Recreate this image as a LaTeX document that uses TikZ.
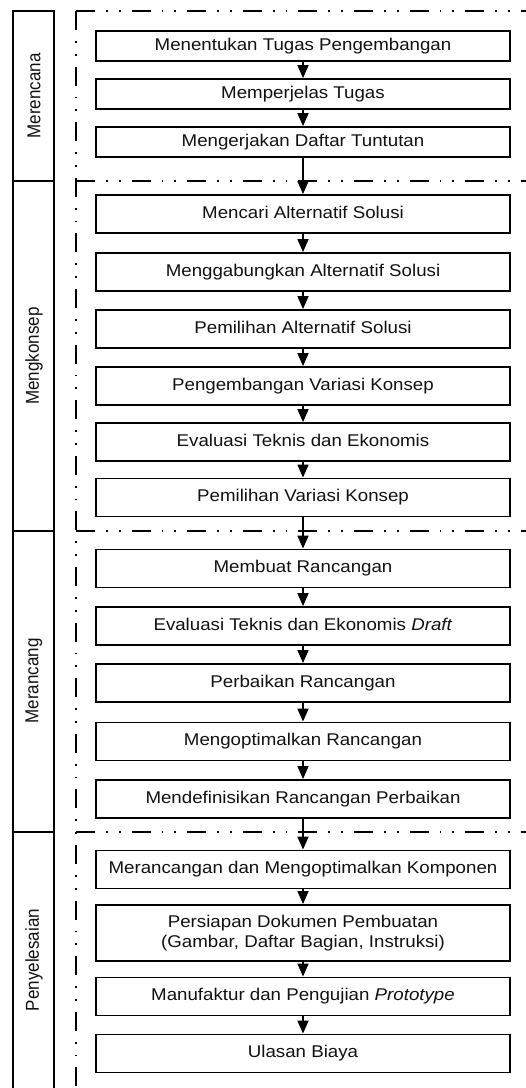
\documentclass[tikz,border=0pt]{standalone}
\usepackage{fontspec}
\usepackage{graphicx}
\setmainfont{Liberation Sans}
\usetikzlibrary{arrows.meta}
\definecolor{ink}{HTML}{111111}
\newcommand{\stx}[1]{\scalebox{1.1}[1]{\begin{tabular}{@{}c@{}}#1\end{tabular}}}
\newcommand{\sidetx}[1]{\scalebox{1}[1.1]{#1}}
\tikzset{
  stepbox/.style={draw=black, line width=1.9pt, minimum width=414pt, minimum height=38pt,
    inner sep=0pt, align=center, text=ink, font=\fontsize{17}{20}\selectfont},
  shortbox/.style={stepbox, minimum height=30pt},
  tallbox/.style={stepbox, minimum height=56pt},
  phase/.style={rotate=90, text=ink, inner sep=0pt, font=\fontsize{17}{20}\selectfont},
  frameline/.style={line width=1.7pt, black},
  sepline/.style={line width=1.6pt, black, dash pattern=on 19pt off 11pt on 1.8pt off 11pt on 1.8pt off 11pt},
  flow/.style={line width=1.7pt, black, -{Triangle[width=11pt,length=13pt]}}
}
\begin{document}
\begin{tikzpicture}[x=1pt,y=-1pt]
\useasboundingbox (0,0) rectangle (526,1088);
% phase column
\draw[frameline] (13,1092) -- (13,11) -- (54,11) -- (54,1092);
\draw[frameline] (13,181) -- (54,181);
\draw[frameline] (13,531) -- (54,531);
\draw[frameline] (13,832) -- (54,832);
\node[phase] (pA) at (34,96) {\sidetx{Merencana}};
\node[phase] (pB) at (34,356) {\sidetx{Mengkonsep}};
\node[phase] (pC) at (34,681) {\sidetx{Merancang}};
\node[phase] (pD) at (34,960) {\sidetx{Penyelesaian}};
% dash-dot separators
\coordinate (c0) at (76,11);
\coordinate (cB) at (76,1092);
\coordinate (r0) at (530,11);
\coordinate (s1) at (76,181);
\coordinate (t1) at (530,181);
\coordinate (s2) at (76,531);
\coordinate (t2) at (530,531);
\coordinate (s3) at (76,832);
\coordinate (t3) at (530,832);
\draw[sepline] (c0) -- (cB);
\draw[sepline] (c0) -- (r0);
\draw[sepline] (s1) -- (t1);
\draw[sepline] (s2) -- (t2);
\draw[sepline] (s3) -- (t3);
% steps
\node[shortbox] (b1) at (303,46) {\stx{Menentukan Tugas Pengembangan}};
\node[shortbox] (b2) at (303,94) {\stx{Memperjelas Tugas}};
\node[shortbox] (b3) at (303,142) {\stx{Mengerjakan Daftar Tuntutan}};
\node[stepbox] (b4) at (303,214) {\stx{Mencari Alternatif Solusi}};
\node[stepbox] (b5) at (303,272) {\stx{Menggabungkan Alternatif Solusi}};
\node[stepbox] (b6) at (303,329) {\stx{Pemilihan Alternatif Solusi}};
\node[stepbox] (b7) at (303,386) {\stx{Pengembangan Variasi Konsep}};
\node[stepbox] (b8) at (303,442) {\stx{Evaluasi Teknis dan Ekonomis}};
\node[stepbox] (b9) at (303,497.5) {\stx{Pemilihan Variasi Konsep}};
\node[stepbox] (b10) at (303,568.5) {\stx{Membuat Rancangan}};
\node[stepbox] (b11) at (303,626) {\stx{Evaluasi Teknis dan Ekonomis \textit{Draft}}};
\node[stepbox] (b12) at (303,683) {\stx{Perbaikan Rancangan}};
\node[stepbox] (b13) at (303,741.5) {\stx{Mengoptimalkan Rancangan}};
\node[stepbox] (b14) at (303,799) {\stx{Mendefinisikan Rancangan Perbaikan}};
\node[stepbox] (b15) at (303,869.5) {\stx{Merancangan dan Mengoptimalkan Komponen}};
\node[tallbox] (b16) at (303,933) {\stx{Persiapan Dokumen Pembuatan\\(Gambar, Daftar Bagian, Instruksi)}};
\node[stepbox] (b17) at (303,996.5) {\stx{Manufaktur dan Pengujian \textit{Prototype}}};
\node[stepbox] (b18) at (303,1053.5) {\stx{Ulasan Biaya}};
% connectors
\foreach \a/\b in {b1/b2,b2/b3,b3/b4,b4/b5,b5/b6,b6/b7,b7/b8,b8/b9,b9/b10,b10/b11,b11/b12,b12/b13,b13/b14,b14/b15,b15/b16,b16/b17,b17/b18}
  \draw[flow] (\a.south) -- (\b.north);
\end{tikzpicture}
\end{document}
